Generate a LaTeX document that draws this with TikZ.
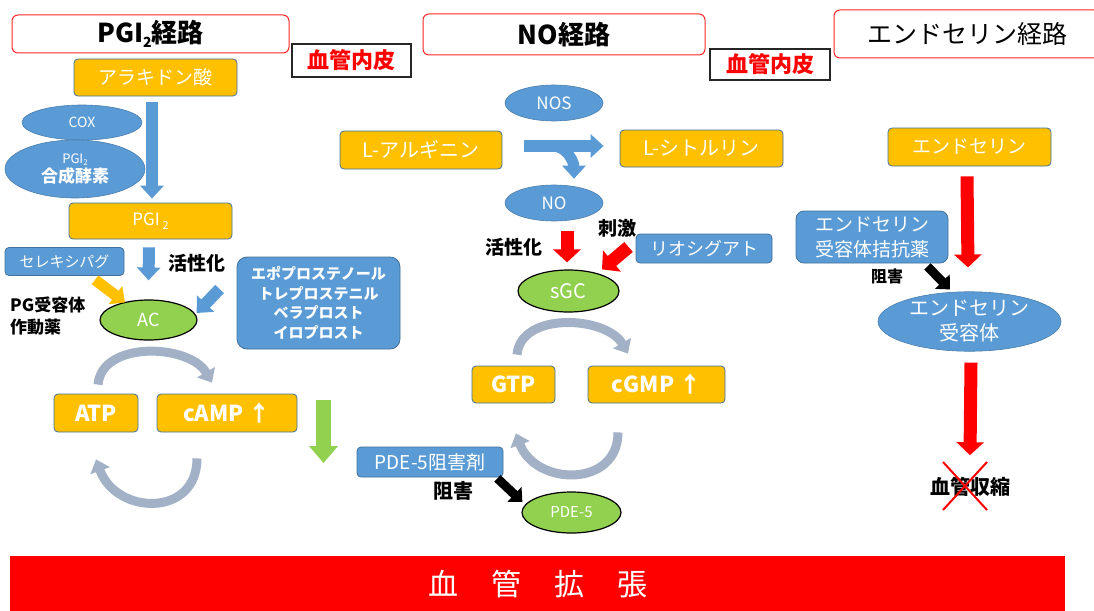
\documentclass[tikz,border=0pt]{standalone}
\usepackage{fontspec}
\newfontfamily\jp{Noto Sans CJK JP}
\usetikzlibrary{arrows.meta,shapes.geometric,calc}
\definecolor{orng}{HTML}{FFC000}
\definecolor{bblue}{HTML}{5B9BD5}
\definecolor{bedge}{HTML}{41719C}
\definecolor{grn}{HTML}{92D050}
\definecolor{grnedge}{HTML}{507E32}
\definecolor{arcg}{HTML}{A3B1C6}
\definecolor{redc}{HTML}{FF0000}
\newcommand\fsz[2]{\fontsize{#1}{#2}\selectfont}
\begin{document}
\begin{tikzpicture}[x=1pt,y=-1pt,
  every node/.style={inner sep=0pt, font=\jp},
  titlebox/.style={draw=redc!85!white, line width=1pt, rounded corners=6pt, fill=white, text=black},
  endobox/.style={draw=black!85, line width=1.3pt, fill=white, text=redc, font=\jp\bfseries\fsz{22}{24}},
  obox/.style={draw=bedge, line width=0.8pt, rounded corners=4pt, fill=orng, text=white},
  bbox/.style={draw=bedge, line width=0.8pt, rounded corners=4pt, fill=bblue, text=white},
  bell/.style={ellipse, fill=bblue, draw=bedge!70!bblue, line width=0.6pt, text=white},
  gell/.style={ellipse, fill=grn, draw=black, line width=1.2pt, text=white},
  lbl/.style={text=black, font=\jp\bfseries\fsz{19}{22}},
  barrow/.style={draw=bblue, line width=12pt, -{Triangle[width=23pt,length=13pt]}},
  oarrow/.style={draw=orng, line width=11pt, -{Triangle[width=22pt,length=12pt]}},
  rarrow/.style={draw=redc, line width=13pt, -{Triangle[width=27pt,length=13pt]}},
  garrow/.style={draw=grn, line width=15pt, -{Triangle[width=28pt,length=17pt]}},
  karrow/.style={draw=black, line width=9pt, -{Triangle[width=20pt,length=11pt]}},
  arcarrow/.style={draw=arcg, line width=9pt, -{Triangle[width=20pt,length=12pt]}},
  bigbold/.style={font=\jp\bfseries\fsz{22}{24}}
]
\useasboundingbox (0,0) rectangle (1094,610);

% titles
\node[titlebox, minimum width=277pt, minimum height=38pt, font=\jp\bfseries\fsz{26}{28}] (t1) at (150.5,34) {PGI\raisebox{-0.35ex}{\fsz{14}{16}2}経路};
\node[endobox, minimum width=119pt, minimum height=33pt] (e1) at (351.5,60.5) {血管内皮};
\node[titlebox, minimum width=282pt, minimum height=41pt, font=\jp\bfseries\fsz{26}{28}] (t2) at (564,34.5) {NO経路};
\node[endobox, minimum width=120pt, minimum height=31pt] (e2) at (770,64.5) {血管内皮};
\node[titlebox, minimum width=266pt, minimum height=48pt, font=\jp\fsz{25}{28}] (t3) at (967,34) {エンドセリン経路};

% PGI2 pathway
\node[obox, minimum width=163pt, minimum height=37pt, font=\jp\fsz{19}{21}] (ara) at (155.5,77.5) {アラキドン酸};
\node[bell, minimum width=120pt, minimum height=35pt, font=\jp\fsz{14}{16}] (cox) at (82,122.5) {COX};
\node[bell, minimum width=140pt, minimum height=58pt, align=center] (pgis) at (75,169) {{\fsz{13}{15}PGI\raisebox{-0.3ex}{\fsz{8}{9}2}}\\[1pt]{\bfseries\fsz{17}{19}合成酵素}};
\node[obox, minimum width=163pt, minimum height=36pt, font=\jp\fsz{17}{20}] (pgi) at (150.5,221) {PGI\,\raisebox{-0.4ex}{\fsz{11}{12}2}};
\node[bbox, minimum width=119pt, minimum height=28pt, font=\jp\fsz{15}{17}] (sel) at (64.5,261.5) {セレキシパグ};
\node[lbl] (act1) at (197,263) {活性化};
\node[gell, minimum width=97pt, minimum height=40pt, font=\jp\fsz{18}{20}] (ac) at (148.5,320) {AC};
\node[lbl, align=left, anchor=west, font=\jp\bfseries\fsz{17}{22}] (pga) at (10,316) {PG受容体\\作動薬};
\node[bbox, rounded corners=10pt, minimum width=163pt, minimum height=92pt, align=center, font=\jp\bfseries\fsz{15}{19.5}] (drug) at (318.5,303) {エポプロステノール\\トレプロステニル\\ベラプロスト\\イロプロスト};
\node[obox, minimum width=84pt, minimum height=38pt, bigbold] (atp) at (96,413) {ATP};
\node[obox, minimum width=140pt, minimum height=38pt, bigbold] (camp) at (227,413) {cAMP ↑};
\coordinate (g1) at (323.5,400);
\coordinate (g2) at (323.5,463);

\draw[barrow] ($(ara.south)+(-3.5,6)$) -- ($(pgi.north)+(1.5,-4)$);
\draw[barrow] ($(pgi.south)+(-1.5,8)$) -- ($(ac.north)+(0,-19)$);
\draw[oarrow] ($(sel.south)+(30.5,4)$) -- ($(ac.north)+(-23.5,3)$);
\draw[barrow] ($(drug.west)+(-17,-14)$) -- ($(ac.east)+(-1,-7)$);
\draw[garrow] (g1) -- (g2);
\draw[arcarrow] ($(atp.north)+(2,-9)$) to[out=85,in=120,looseness=1.0] ($(camp.north)+(-15,-11)$);
\draw[arcarrow] ($(camp.south)+(-30,26)$) to[out=-90,in=-70,looseness=1.5] ($(atp.south)+(0,27)$);

% NO pathway
\node[bell, minimum width=98pt, minimum height=36pt, font=\jp\fsz{17}{19}] (nos) at (554,103) {NOS};
\node[obox, minimum width=162pt, minimum height=38pt, font=\jp\fsz{20}{22}] (larg) at (421,150) {L-アルギニン};
\node[obox, minimum width=163pt, minimum height=37pt, font=\jp\fsz{20}{22}] (cit) at (701.5,148.5) {L-シトルリン};
\node[bell, minimum width=98pt, minimum height=36pt, font=\jp\fsz{17}{19}] (no) at (554,203) {NO};
\node[lbl] (act2) at (514,247) {活性化};
\node[lbl] (stim) at (617,228) {刺激};
\node[bbox, minimum width=136pt, minimum height=29pt, font=\jp\fsz{18}{20}] (rio) at (704,248.5) {リオシグアト};
\node[gell, minimum width=101pt, minimum height=42pt, font=\jp\fsz{20}{22}] (sgc) at (568.5,291) {sGC};
\node[obox, minimum width=83pt, minimum height=37pt, bigbold] (gtp) at (513.5,384.5) {GTP};
\node[obox, minimum width=137pt, minimum height=37pt, bigbold] (cgmp) at (656.5,384.5) {cGMP ↑};
\node[bbox, minimum width=146pt, minimum height=30pt, font=\jp\fsz{19}{21}] (pde5i) at (430,462) {PDE-5阻害剤};
\node[lbl, font=\jp\bfseries\fsz{20}{22}] (inh1) at (453,491) {阻害};
\node[gell, minimum width=99pt, minimum height=41pt, font=\jp\fsz{15}{17}] (pde5) at (571.5,512.5) {PDE-5};

\draw[barrow] ($(larg.east)+(22,-4)$) -- ($(cit.west)+(-16,-2.5)$);
\draw[barrow, line width=11pt] ($(larg.east)+(50,-4)$) to[out=0,in=90] ($(no.north)+(20,-6)$);
\draw[rarrow] ($(no.south)+(13,10)$) -- ($(sgc.north)+(-1.5,-7)$);
\draw[rarrow] ($(rio.west)+(-7,-1.5)$) -- ($(sgc.north)+(33.5,0)$);
\draw[arcarrow] ($(gtp.north)+(3.5,-11)$) to[out=85,in=120,looseness=1.0] ($(cgmp.north)+(-28.5,-12)$);
\draw[arcarrow] ($(cgmp.south)+(-38.5,29)$) to[out=-90,in=-70,looseness=1.4] ($(gtp.south)+(2.5,30)$);
\draw[karrow] ($(pde5i.south east)+(-6,1)$) -- ($(pde5.west)+(1,-10.5)$);

% endothelin pathway
\node[obox, minimum width=163pt, minimum height=38pt, font=\jp\fsz{19}{21}] (et) at (969.5,147) {エンドセリン};
\node[bbox, rounded corners=8pt, minimum width=152pt, minimum height=52pt, align=center, font=\jp\fsz{19}{25}] (era) at (872,237) {エンドセリン\\受容体拮抗薬};
\node[lbl, font=\jp\bfseries\fsz{16}{18}] (inh2) at (887,276) {阻害};
\node[bell, minimum width=183pt, minimum height=59pt, align=center, font=\jp\fsz{20}{25}] (etr) at (969.5,321.5) {エンドセリン\\受容体};
\node[lbl, font=\jp\bfseries\fsz{20}{22}] (vc) at (970,487) {血管収縮};

\draw[rarrow] ($(et.south)+(-2.5,10)$) -- ($(etr.north)+(-1.5,-24)$);
\draw[karrow] ($(era.south east)+(-21,3)$) -- ($(etr.north)+(-19.5,-2)$);
\draw[rarrow] ($(etr.south)+(1.5,11)$) -- ($(vc.north)+(0,-22)$);
\draw[redc, line width=2pt] ($(vc)+(-27,-25)$) -- ($(vc)+(17,23)$);
\draw[redc, line width=2pt] ($(vc)+(-27,23)$) -- ($(vc)+(17,-25)$);

% bottom bar
\node[fill=redc, minimum width=1055pt, minimum height=56pt, text=white, font=\jp\fsz{30}{32}] (bar) at (537.5,584) {血\hspace{33pt}管\hspace{33pt}拡\hspace{33pt}張};
\end{tikzpicture}
\end{document}
